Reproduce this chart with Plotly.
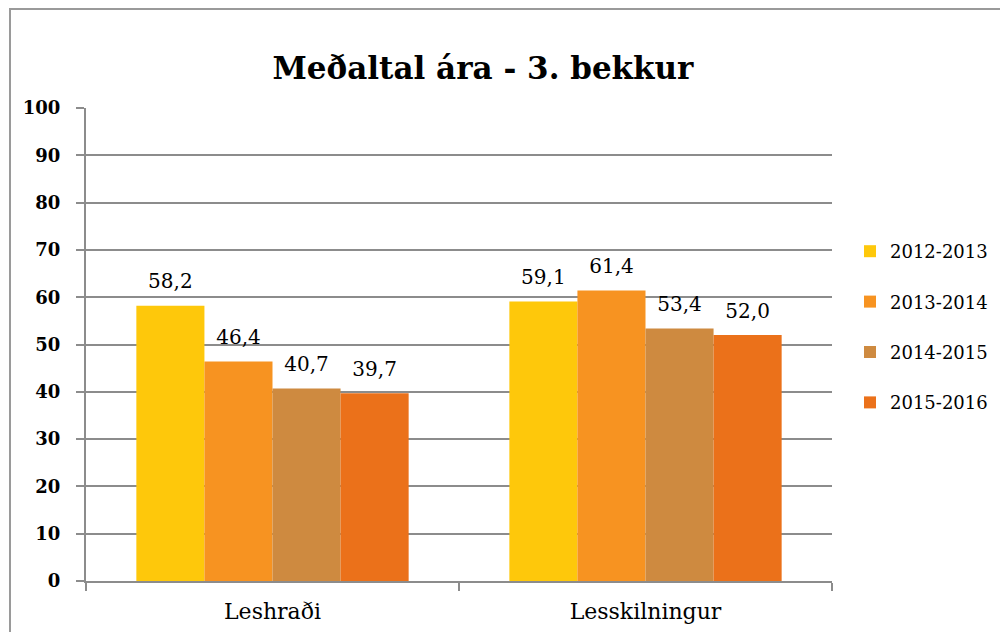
import plotly.graph_objects as go

categories = ["Leshraði", "Lesskilningur"]
series_names = ["2012-2013", "2013-2014", "2014-2015", "2015-2016"]
values = {
    "2012-2013": [58.2, 59.1],
    "2013-2014": [46.4, 61.4],
    "2014-2015": [40.7, 53.4],
    "2015-2016": [39.7, 52.0],
}
colors = ["#FEC80B", "#F79321", "#CE8A40", "#EB711A"]
y_ticks = [0, 10, 20, 30, 40, 50, 60, 70, 80, 90, 100]

FONT = "DejaVu Serif"
OFF = 8  # browser default body margin
W, H = 1008 - OFF, 632 - OFF
L, R, T, B = 86 - OFF, 176, 108 - OFF, 51
pw, ph = W - L - R, H - T - B
GAP = 0.27

fig = go.Figure()
for name, col in zip(series_names, colors):
    vals = values[name]
    fig.add_trace(go.Bar(
        x=categories, y=vals, name=name, legendgroup=name,
        offsetgroup=name, alignmentgroup="g",
        marker=dict(color=col, line=dict(width=0)),
    ))
for name in series_names:
    vals = values[name]
    fig.add_trace(go.Scatter(
        x=categories, y=vals, mode="markers+text", showlegend=False,
        offsetgroup=name, alignmentgroup="g", hoverinfo="skip",
        marker=dict(size=18, color="rgba(0,0,0,0)"),
        text=[f"{v:.1f}".replace(".", ",") for v in vals],
        textposition="top center",
        textfont=dict(family=FONT, size=20, color="black"),
        cliponaxis=False,
    ))

def px_x(p):
    return (p - OFF - L) / pw

def px_y(p):
    return (H - B - (p - OFF)) / ph

fig.update_layout(
    width=W, height=H,
    margin=dict(l=L, r=R, t=T, b=B, autoexpand=False),
    paper_bgcolor="white", plot_bgcolor="white",
    font=dict(family=FONT, color="black"),
    barmode="group", bargap=GAP, bargroupgap=0,
    scattermode="group", scattergap=GAP,
    title=dict(text="<b>Meðaltal ára - 3. bekkur</b>", x=(483 - OFF) / W, xanchor="center",
               y=1 - (68 - OFF) / H, yanchor="middle",
               font=dict(family=FONT, size=31, color="black")),
    legend=dict(x=px_x(850), y=px_y(233), xanchor="left", yanchor="top",
                font=dict(family=FONT, size=18, color="black"),
                tracegroupgap=24, itemwidth=30, bgcolor="rgba(0,0,0,0)"),
    showlegend=True,
    xaxis=dict(showline=True, linecolor="#8C8C8C", linewidth=2, automargin=False,
               ticks="outside", tickson="boundaries", ticklen=8, tickcolor="#8C8C8C", tickwidth=2,
               tickfont=dict(family=FONT, size=22, color="black"), showgrid=False,
               ticklabelstandoff=10),
    yaxis=dict(range=[0, 100], tickvals=y_ticks, showline=True, linecolor="#8C8C8C", linewidth=2,
               automargin=False,
               ticks="outside", ticklen=8, tickcolor="#8C8C8C", tickwidth=2,
               showgrid=True, gridcolor="#8C8C8C", gridwidth=2, zeroline=False,
               tickfont=dict(family=FONT, size=18, color="black", weight="bold"),
               ticklabelstandoff=12),
    shapes=[dict(type="rect", xref="paper", yref="paper",
                 x0=px_x(10), x1=px_x(1030), y0=px_y(660), y1=px_y(9),
                 line=dict(color="#9A9A9A", width=2), fillcolor="rgba(0,0,0,0)", layer="below")],
)

fig.write_html("out.html")
